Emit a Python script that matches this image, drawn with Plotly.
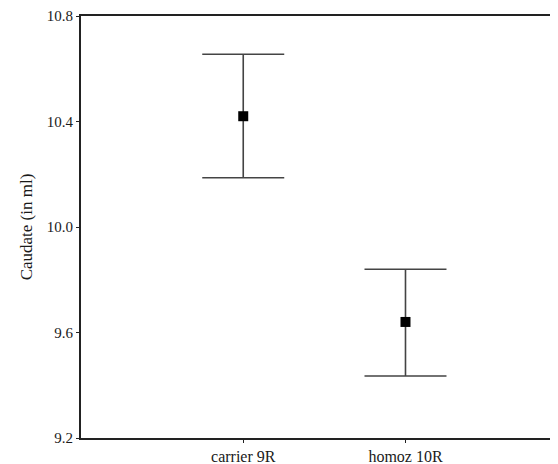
import plotly.graph_objects as go

categories = ["carrier 9R", "homoz 10R"]
means = [10.42, 9.64]
upper = [10.655, 9.84]
lower = [10.187, 9.435]
y_ticks = [9.2, 9.6, 10.0, 10.4, 10.8]
y_tick_labels = ["9.2", "9.6", "10.0", "10.4", "10.8"]

xpos = list(range(len(categories)))
err_plus = [u - m for u, m in zip(upper, means)]
err_minus = [m - l for m, l in zip(means, lower)]

fig = go.Figure()
fig.add_trace(go.Scatter(
    x=xpos, y=means, mode="markers",
    marker=dict(symbol="square", size=10, color="black"),
    error_y=dict(type="data", symmetric=False, array=err_plus, arrayminus=err_minus,
                 width=41, thickness=1.6, color="#444444"),
    showlegend=False,
))

# page body has an 8px margin; compensate so the plot area lands where the reference has it
fig.update_layout(
    width=550, height=456,
    margin=dict(l=73, r=0, t=8, b=26),
    plot_bgcolor="white", paper_bgcolor="white",
    font=dict(family="Liberation Serif, Times New Roman, serif", color="#1a1a1a"),
)
fig.update_xaxes(
    range=[-1, 1.94], tickvals=xpos, ticktext=categories,
    showline=True, linecolor="#222222", linewidth=2, mirror=True,
    ticks="outside", ticklen=3, tickcolor="#222222", automargin=False,
    showgrid=False, zeroline=False, tickfont=dict(size=16),
)
fig.update_yaxes(
    range=[9.2, 10.8], tickvals=y_ticks, ticktext=y_tick_labels,
    showline=True, linecolor="#222222", linewidth=2,
    ticks="outside", ticklen=3, tickcolor="#222222", automargin=False,
    showgrid=False, zeroline=False, tickfont=dict(size=15),
    title=dict(text="Caudate (in ml)", font=dict(size=17), standoff=10),
)
fig.write_html("out.html", post_script="document.body.style.overflow='hidden';")
